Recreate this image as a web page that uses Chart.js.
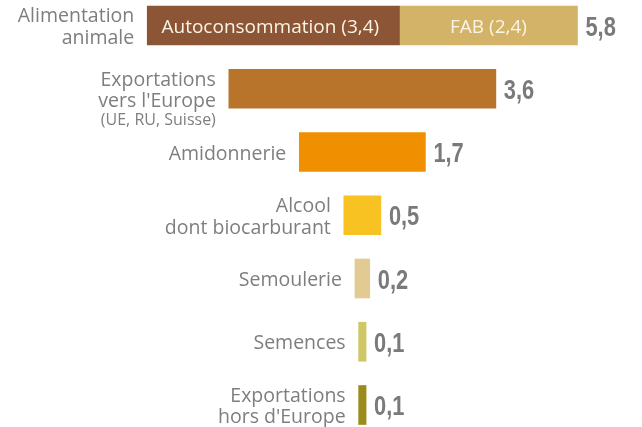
<!DOCTYPE html>
<html lang="fr">
<head>
<meta charset="UTF-8">
<title>Débouchés du maïs</title>
<style>
    html, body { margin: 0; padding: 0; background: #fff; }
    #wrap { width: 642px; height: 427px; position: relative; }
</style>
</head>
<body>
<div id="wrap"><canvas id="chart"></canvas></div>

<script src="https://cdn.jsdelivr.net/npm/chart.js@4.4.1/dist/chart.umd.min.js"></script>
<script>
// Data
const categories = [
    ["Alimentation", "animale"],
    ["Exportations", "vers l'Europe"],
    ["Amidonnerie"],
    ["Alcool", "dont biocarburant"],
    ["Semoulerie"],
    ["Semences"],
    ["Exportations", "hors d'Europe"]
];
const subLabels = ["", "(UE, RU, Suisse)", "", "", "", "", ""];
const totals = [5.8, 3.6, 1.7, 0.5, 0.2, 0.1, 0.1];
// split of the first row
const partNames = ["Autoconsommation", "FAB"];
const partValues = [3.4, 2.4];

const barColors = ["#8b5536", "#b9742b", "#f09001", "#f8c222", "#e2cb93", "#cfc765", "#9b8b1b"];
const fabColor = "#d3b367";

const fmt = v => v.toString().replace(".", ",");

// bars are centred on 0 (floating bars)
const mainData = totals.map((v, i) => i === 0 ? [-v / 2, -v / 2 + partValues[0]] : [-v / 2, v / 2]);
const fabData = totals.map((v, i) => i === 0 ? [-v / 2 + partValues[0], v / 2] : null);

const LABEL_FONT = '"Open Sans", "Lato", sans-serif';
const VALUE_FONT = '"Liberation Sans", Arial, sans-serif';

const labelsPlugin = {
    id: "labels",
    afterDatasetsDraw(chart) {
        const ctx = chart.ctx;
        const m0 = chart.getDatasetMeta(0).data;
        const m1 = chart.getDatasetMeta(1).data;
        ctx.save();
        m0.forEach((el, i) => {
            const left = Math.min(el.x, el.base);
            let right = Math.max(el.x, el.base);
            if (m1[i] && fabData[i]) right = Math.max(m1[i].x, m1[i].base);
            const cy = el.y;

            // category label, left of the bar
            const lines = categories[i];
            const lh = 21.5;
            ctx.fillStyle = "#7e7e7e";
            ctx.textAlign = "right";
            ctx.textBaseline = "alphabetic";
            ctx.font = "19.5px " + LABEL_FONT;
            let y = cy - (lines.length - 1) * lh / 2 + 7.5;
            lines.forEach((t, k) => ctx.fillText(t, left - 13, y + k * lh));
            if (subLabels[i]) {
                ctx.font = "16px " + LABEL_FONT;
                ctx.fillText(subLabels[i], left - 13, y + (lines.length - 1) * lh + 17.5);
            }

            // value, right of the bar (condensed bold look)
            ctx.fillStyle = "#7a7a7a";
            ctx.textAlign = "left";
            ctx.font = "bold 28px " + VALUE_FONT;
            ctx.save();
            ctx.translate(right + 8, cy + 10);
            ctx.scale(0.78, 1);
            ctx.fillText(fmt(totals[i]), 0, 0);
            ctx.restore();
        });

        // texts inside the first (split) bar
        ctx.fillStyle = "#fbf4e6";
        ctx.textAlign = "center";
        ctx.font = "19px " + LABEL_FONT;
        const a = m0[0], b = m1[0];
        ctx.fillText(partNames[0] + " (" + fmt(partValues[0]) + ")", (a.x + a.base) / 2 - 3, a.y + 7);
        ctx.fillText(partNames[1] + " (" + fmt(partValues[1]) + ")", (b.x + b.base) / 2, b.y + 7);
        ctx.restore();
    }
};

new Chart("chart", {
    type: "bar",
    data: {
        labels: categories,
        datasets: [
            {
                data: mainData,
                backgroundColor: barColors,
                barThickness: 39,
                grouped: false,
                clip: false
            },
            {
                data: fabData,
                backgroundColor: fabColor,
                barThickness: 39,
                grouped: false,
                clip: false
            }
        ]
    },
    options: {
        indexAxis: "y",
        responsive: true,
        maintainAspectRatio: false,
        animation: false,
        layout: { padding: { top: 25.5, bottom: 22, left: 0, right: 0 } },
        plugins: {
            legend: { display: false },
            tooltip: { enabled: false }
        },
        scales: {
            x: { type: "linear", min: -4.885, max: 3.77, display: false },
            y: { type: "category", offset: false, display: false }
        }
    },
    plugins: [labelsPlugin]
});
</script>
</body>
</html>
